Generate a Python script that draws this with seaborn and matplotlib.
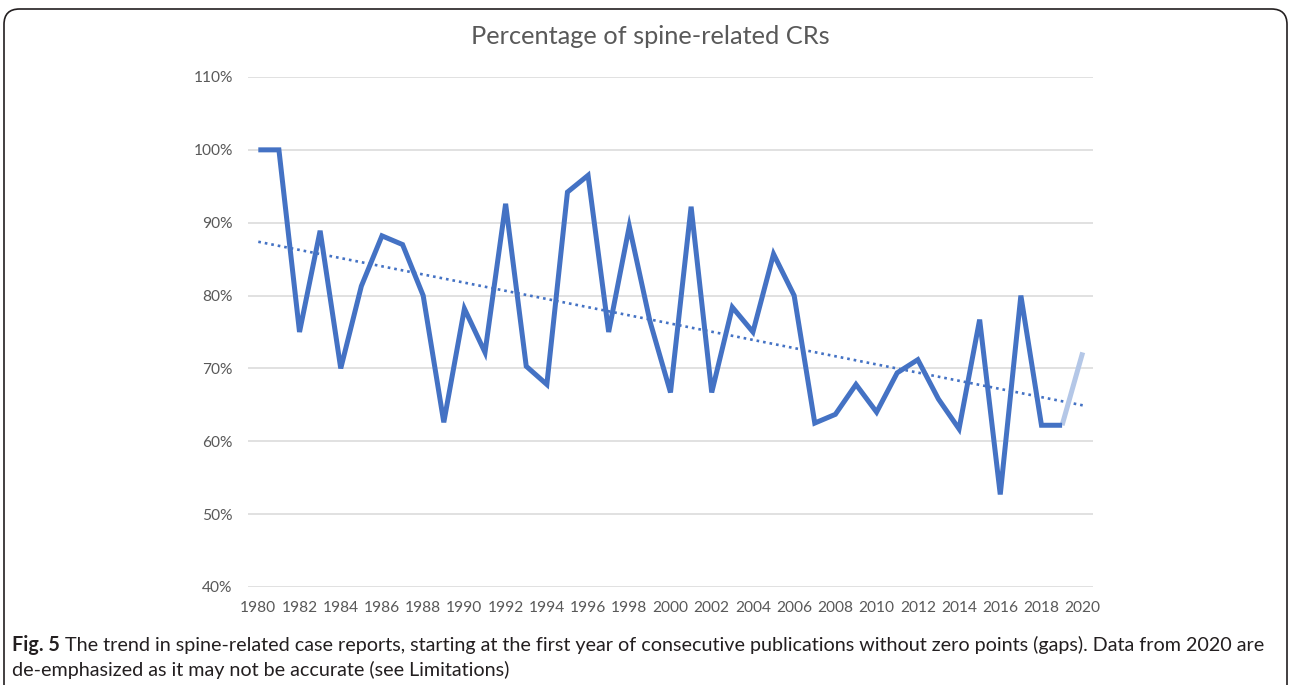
import numpy as np
import pandas as pd
import matplotlib
matplotlib.use("Agg")
import matplotlib.pyplot as plt
from matplotlib.patches import FancyBboxPatch
from matplotlib.ticker import FuncFormatter, MultipleLocator
import seaborn as sns

# ---- data ----
years = list(range(1980, 2021))
pct = [100.0, 100.0, 75.0, 88.9, 70.0, 81.3, 88.2, 87.0, 80.0, 62.6,
       78.2, 72.2, 92.6, 70.3, 67.8, 94.2, 96.5, 75.0, 89.5, 76.5,
       66.7, 92.2, 66.7, 78.4, 75.0, 85.7, 80.0, 62.5, 63.7, 67.8,
       64.0, 69.4, 71.2, 65.8, 61.7, 76.7, 52.7, 80.0, 62.2, 62.2,
       72.2]
title = "Percentage of spine-related CRs"
caption_bold = "Fig. 5"
caption_line1 = (" The trend in spine-related case reports, starting at the first year of "
                 "consecutive publications without zero points (gaps). Data from 2020 are")
caption_line2 = "de-emphasized as it may not be accurate (see Limitations)"

df = pd.DataFrame({"year": years, "pct": pct})
main = df[df["year"] <= 2019]
last = df[df["year"] >= 2019]

sns.set_theme(style="white")
plt.rcParams["font.family"] = ["Lato", "DejaVu Sans"]

BLUE = "#4472C4"
LIGHT = "#B4C7E7"
GRAY = "#595959"

fig = plt.figure(figsize=(12.9, 6.85), dpi=100)
ax = fig.add_axes([248 / 1290, 1 - 587 / 685, (1093 - 248) / 1290, (587 - 77) / 685])

# trendline (linear fit over all points)
sns.regplot(data=df, x="year", y="pct", ax=ax, scatter=False, ci=None, truncate=True,
            line_kws=dict(color=BLUE, lw=1.9, linestyle=(0, (1, 1.5)), zorder=2))
sns.lineplot(data=main, x="year", y="pct", ax=ax, color=BLUE, lw=3.6, zorder=3,
             solid_joinstyle="miter", solid_capstyle="butt")
sns.lineplot(data=last, x="year", y="pct", ax=ax, color=LIGHT, lw=3.6, zorder=2.5,
             solid_capstyle="butt")

ax.set_xlim(1979.5, 2020.5)
ax.set_ylim(40, 110)
ax.yaxis.set_major_locator(MultipleLocator(10))
ax.yaxis.set_major_formatter(FuncFormatter(lambda v, p: f"{v:.0f}%"))
ax.set_xticks(years[::2])
ax.set_xlabel("")
ax.set_ylabel("")
ax.grid(axis="y", color="#D9D9D9", lw=1.1)
ax.grid(axis="x", visible=False)
for s in ax.spines.values():
    s.set_visible(False)
ax.tick_params(axis="both", length=0, labelsize=11.2, colors=GRAY)
ax.tick_params(axis="y", pad=11)
ax.tick_params(axis="x", pad=10)

fig.text(650 / 1290, 1 - 37 / 685, title, ha="center", va="center", fontsize=18.3, color=GRAY)

# caption
CAP = 14.2
t1 = fig.text(12 / 1290, 1 - 651 / 685, caption_bold, ha="left", va="baseline",
              fontsize=CAP, fontweight="bold", color="#231F20")
fig.canvas.draw()
bb = t1.get_window_extent()
fig.text(bb.x1 / 1290, 1 - 651 / 685, caption_line1, ha="left", va="baseline",
         fontsize=CAP, color="#231F20")
fig.text(12 / 1290, 1 - 676 / 685, caption_line2, ha="left", va="baseline",
         fontsize=CAP, color="#231F20")

# rounded frame
frame = FancyBboxPatch((4 / 1290, -20 / 685), (1287 - 4) / 1290, (685 - 9 + 20) / 685,
                       boxstyle="round,pad=0,rounding_size=0.012",
                       transform=fig.transFigure, fill=False, ec="#231F20", lw=1.2,
                       mutation_aspect=1290 / 685)
fig.patches.append(frame)

fig.savefig("out.png", dpi=100)
